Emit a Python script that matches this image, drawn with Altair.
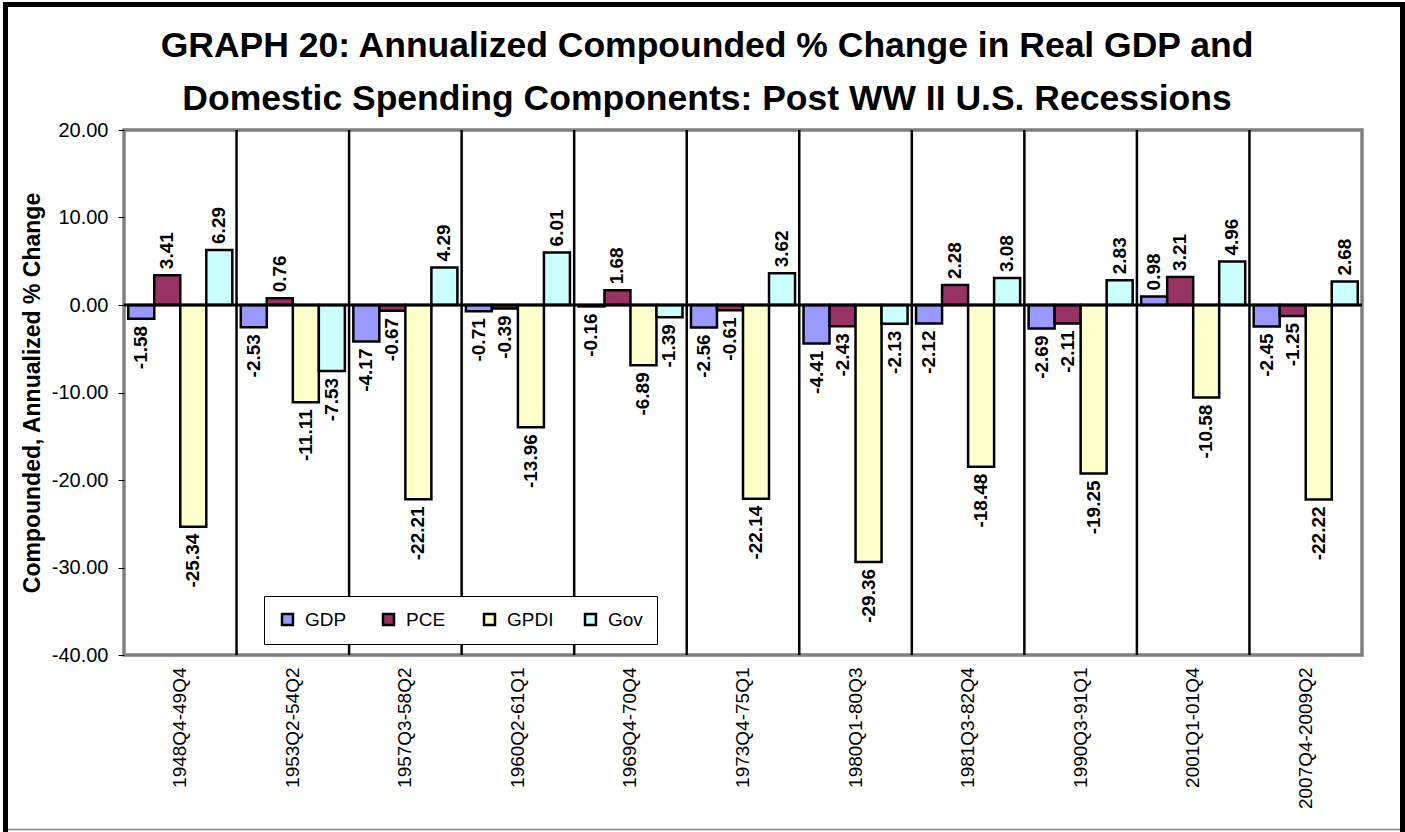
import altair as alt
import pandas as pd

# Recession windows (peak-to-trough quarters)
periods = [
    "1948Q4-49Q4", "1953Q2-54Q2", "1957Q3-58Q2", "1960Q2-61Q1",
    "1969Q4-70Q4", "1973Q4-75Q1", "1980Q1-80Q3", "1981Q3-82Q4",
    "1990Q3-91Q1", "2001Q1-01Q4", "2007Q4-2009Q2",
]
series = ["GDP", "PCE", "GPDI", "Gov"]

# Annualized compounded % change over each recession
gdp = [-1.58, -2.53, -4.17, -0.71, -0.16, -2.56, -4.41, -2.12, -2.69, 0.98, -2.45]
pce = [3.41, 0.76, -0.67, -0.39, 1.68, -0.61, -2.43, 2.28, -2.11, 3.21, -1.25]
gpdi = [-25.34, -11.11, -22.21, -13.96, -6.89, -22.14, -29.36, -18.48, -19.25, -10.58, -22.22]
gov = [6.29, -7.53, 4.29, 6.01, -1.39, 3.62, -2.13, 3.08, 2.83, 4.96, 2.68]

colors = ["#9999FF", "#993366", "#FFFFCC", "#CCFFFF"]
y_ticks = [20, 10, 0, -10, -20, -30, -40]

rows = []
for name, vals in zip(series, [gdp, pce, gpdi, gov]):
    for p, v in zip(periods, vals):
        rows.append({"period": p, "series": name, "value": v})
df = pd.DataFrame(rows)
sep_df = pd.DataFrame({"period": periods[1:]})

FONT = "Liberation Sans"
# two-decimal format with a plain hyphen for negatives
FMT = "replace(format(datum.value, '.2f'), '\u2212', '-')"

x_enc = alt.X(
    "period:N",
    sort=periods,
    scale=alt.Scale(domain=periods, paddingInner=0, paddingOuter=0),
    axis=alt.Axis(
        title=None, labelAngle=-90, labelAlign="right", labelBaseline="middle",
        labelFontSize=19, labelFont=FONT, labelColor="black", labelPadding=12,
        ticks=False, domain=False, grid=False,
    ),
)
xoff_enc = alt.XOffset(
    "series:N", sort=series,
    scale=alt.Scale(domain=series, paddingInner=0, paddingOuter=0.163),
)
y_enc = alt.Y(
    "value:Q",
    scale=alt.Scale(domain=[-40, 20], nice=False, zero=False),
    axis=alt.Axis(
        title="Compounded, Annualized % Change", titleFontSize=23,
        titleFont=FONT, titleFontWeight="bold", titleColor="black",
        titlePadding=7, values=y_ticks, labelExpr=FMT, labelFontSize=20,
        labelFont=FONT, labelColor="black", labelPadding=10, tickSize=6,
        tickColor="black", tickWidth=1, domain=False, grid=False,
    ),
)

# Black separators between recession groups
separators = alt.Chart(sep_df).mark_rule(color="black", strokeWidth=2.5).encode(
    x=alt.X("period:N", sort=periods, bandPosition=0)
)

bars = alt.Chart(df).mark_bar(stroke="black", strokeWidth=2.5).encode(
    x=x_enc,
    xOffset=xoff_enc,
    y=y_enc,
    fill=alt.Fill(
        "series:N", sort=series,
        scale=alt.Scale(domain=series, range=colors),
        legend=alt.Legend(
            orient="none", legendX=140, legendY=466, direction="horizontal",
            columns=4, title=None, fillColor="white", strokeColor="black",
            padding=14, symbolType="square", symbolSize=120,
            symbolStrokeColor="black", symbolStrokeWidth=2.5,
            labelFontSize=19, labelFont=FONT, labelColor="black",
            labelOffset=8, columnPadding=26, gridAlign="all",
        ),
    ),
)

zero_line = alt.Chart(pd.DataFrame({"v": [0]})).mark_rule(
    color="black", strokeWidth=3
).encode(y="v:Q")

label_common = dict(angle=270, baseline="middle", fontWeight="bold",
                    fontSize=19, font=FONT, color="black")
label_enc = dict(
    x=alt.X("period:N", sort=periods),
    xOffset=alt.XOffset("series:N", sort=series),
    y="value:Q",
    text="label:N",
)
pos_labels = alt.Chart(df).transform_filter("datum.value >= 0").transform_calculate(
    label=FMT
).mark_text(align="left", dx=6, **label_common).encode(**label_enc)
neg_labels = alt.Chart(df).transform_filter("datum.value < 0").transform_calculate(
    label=FMT
).mark_text(align="right", dx=-7, **label_common).encode(**label_enc)

# Page frame
frame = alt.Chart(alt.Data(values=[{}])).mark_rect(
    fill=None, stroke="black", strokeWidth=5
).encode(x=alt.value(-118.5), x2=alt.value(1278.5), y=alt.value(-125.5), y2=alt.value(712))
frame_bottom = alt.Chart(alt.Data(values=[{}])).mark_rule(
    color="#808080", strokeWidth=1.5
).encode(x=alt.value(-116), x2=alt.value(1276), y=alt.value(699.5))

chart = alt.layer(
    separators, bars, zero_line, pos_labels, neg_labels, frame, frame_bottom
).properties(
    width=1238,
    height=525,
    title=alt.TitleParams(
        text=["GRAPH 20: Annualized Compounded % Change in Real GDP and",
              "Domestic Spending Components: Post WW II U.S. Recessions"],
        font=FONT, fontSize=35.5, fontWeight="bold", color="black",
        anchor="middle", frame="group", dx=-36, dy=115, lineHeight=53, offset=0,
    ),
    autosize=alt.AutoSizeParams(type="none"),
    padding={"left": 124, "top": 130, "right": 43, "bottom": 177},
    background="white",
).configure_view(
    stroke="#808080", strokeWidth=3.5
)

chart.save("out.html", embed_options={"renderer": "svg", "actions": False})
